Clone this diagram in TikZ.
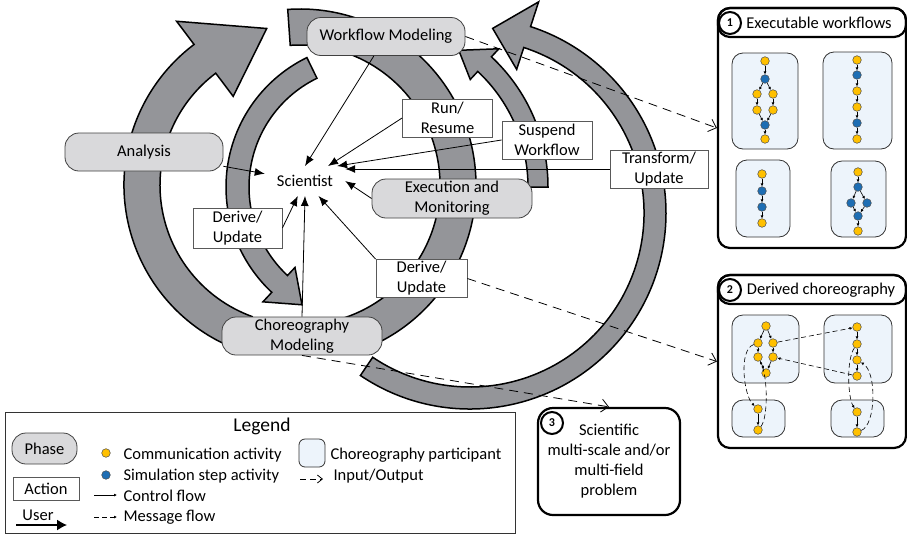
\documentclass[tikz,border=0pt]{standalone}
\usepackage{fontspec}
\setmainfont{Carlito}
\usepackage{tikz}
\usetikzlibrary{arrows.meta,calc}

\definecolor{bandgray}{RGB}{148,149,153}
\definecolor{phasegray}{RGB}{217,217,219}
\definecolor{partblue}{RGB}{237,244,251}
\definecolor{commyellow}{RGB}{255,192,0}
\definecolor{simblue}{RGB}{30,110,180}

\begin{document}
\begin{tikzpicture}[x=1pt, y=1pt, font=\fontsize{16.5}{20}\selectfont,
    band/.style={draw=black, line width=1.5pt, fill=bandgray},
    phase/.style={draw=black!75, line width=0.8pt, fill=phasegray, rounded corners=14pt, minimum width=158pt, minimum height=38pt, align=center, inner sep=0pt},
    action/.style={draw=black!65, line width=0.8pt, fill=white, minimum width=90pt, minimum height=38pt, align=center, inner sep=0pt},
    user/.style={-{Latex[length=10pt,width=8pt]}, line width=0.8pt},
    io/.style={-{Straight Barb[length=7pt,width=13pt]}, line width=0.8pt, dash pattern=on 9pt off 6pt},
    group/.style={draw=black, line width=2.2pt, rounded corners=12pt, inner sep=0pt},
    part/.style={draw=black!80, fill=partblue, line width=0.8pt, rounded corners=11pt, inner sep=0pt},
    cdot/.style={circle, draw=black!70, fill=commyellow, minimum size=8.6pt, inner sep=0pt, line width=0.5pt},
    sdot/.style={cdot, fill=simblue},
    flow/.style={-{Latex[length=3pt,width=3pt]}, line width=0.6pt},
    msg/.style={flow, dash pattern=on 5pt off 3pt},
    num/.style={circle, draw=black, line width=2pt, fill=white, inner sep=0pt, minimum size=22pt, font=\fontsize{12}{12}\selectfont\bfseries}]
    \useasboundingbox (0,0) rectangle (907,-536);
    \coordinate (O1) at (300,-185); \coordinate (O2) at (370,-187); \coordinate (O3) at (470,-213);

    \draw[band] ($(O3)+(236:196)$) arc[start angle=236, end angle=432, radius=196] -- ($(O3)+(432:222)$) -- ($(O3)+(443:186)$) -- ($(O3)+(432:151)$) -- ($(O3)+(432:174)$) arc[start angle=432, end angle=236, radius=174] -- cycle;
    \draw[band] ($(O2)+(0:178)$) arc[start angle=0, end angle=47, radius=178] -- ($(O2)+(47:189)$) -- ($(O2)+(57:163)$) -- ($(O2)+(47:147)$) -- ($(O2)+(47:158)$) arc[start angle=47, end angle=0, radius=158] -- cycle;
    \draw[band] ($(O1)+(94:176)$) arc[start angle=94, end angle=-73, radius=176] -- ($(O1)+(-73:140)$) arc[start angle=-73, end angle=94, radius=140] -- cycle;
    \draw[band] ($(O1)+(250:176)$) arc[start angle=250, end angle=127, radius=176] -- ($(O1)+(127:205)$) -- ($(O1)+(102:160)$) -- ($(O1)+(127:111)$) -- ($(O1)+(127:140)$) arc[start angle=127, end angle=250, radius=140] -- cycle;
    \draw[band] ($(O2)+(116:144)$) arc[start angle=116, end angle=227, radius=144] -- ($(O2)+(227:157)$) -- ($(O2)+(240:136)$) -- ($(O2)+(227:110)$) -- ($(O2)+(227:121)$) arc[start angle=227, end angle=116, radius=121] -- cycle;

    \node[phase] (wfm) at (386,-36.5) {Workflow Modeling};
    \node[phase] (ana) at (144,-152) {Analysis};
    \node[phase, minimum width=160pt, minimum height=39pt] (exe) at (452,-198.5) {Execution and\\Monitoring};
    \node[phase, minimum width=160pt] (chm) at (302,-336) {Choreography\\Modeling};

    \node[action] (run) at (447.5,-118) {Run/\\Resume};
    \node[action] (susp) at (547,-140) {Suspend\\Workflow};
    \node[action, minimum width=98pt] (trans) at (659,-169) {Transform/\\Update};
    \node[action, minimum width=89pt, minimum height=40pt] (dl) at (237.5,-228) {Derive/\\Update};
    \node[action, minimum width=91pt] (dr) at (421.5,-278.5) {Derive/\\Update};
    \node[inner xsep=12pt, inner ysep=9pt] (sci) at (305,-181) {Scientist};

    \draw[user] (wfm) -- (sci.north); \draw[user] (run.west) -- (sci);
    \draw[user] (susp.west) -- (sci.25); \draw[user] (trans.west) -- (trans.west -| sci.east);
    \draw[user] (exe.west) -- (sci.east); \draw[user] (ana) -- (sci);
    \draw[user] (dl.east) -- (sci); \draw[user] (chm.north) -- (sci.south);
    \draw[user] (dr.north west) -- (sci);

    \node[group, minimum width=188pt, minimum height=240pt] (ex) at (812,-128) {};
    \node[group, minimum width=188pt, minimum height=29pt] (exh) at (812,-22.5) {};
    \node (ext) at (819,-23) {Executable workflows}; \node[num] (n1) at (730,-23) {1};
    \node[group, minimum width=188pt, minimum height=173pt] (ch) at (812,-361.5) {};
    \node[group, minimum width=188pt, minimum height=29pt] (chh) at (812,-289.5) {};
    \node (cht) at (821,-290) {Derived choreography}; \node[num] (n2) at (730,-290) {2};
    \node[group, rounded corners=15pt, minimum width=142pt, minimum height=107pt, align=center] (prob) at (609,-461.5) {Scientific\\multi-scale and/or\\multi-field\\problem};
    \node[num] (n3) at (552,-423) {3};

    \node[part, minimum width=66pt, minimum height=96pt] (p1) at (765,-101) {};
    \node[part, minimum width=69pt, minimum height=97pt] (p2) at (857.5,-100.5) {};
    \node[part, minimum width=54pt, minimum height=77pt] (p3) at (763,-198.5) {};
    \node[part, minimum width=55pt, minimum height=76pt] (p4) at (858.5,-199) {};
    \node[part, minimum width=67pt, minimum height=68pt] (q1) at (765.5,-349) {};
    \node[part, minimum width=68pt, minimum height=68pt] (q2) at (858,-349) {};
    \node[part, minimum width=53pt, minimum height=37pt] (q3) at (758.5,-418.5) {};
    \node[part, minimum width=53pt, minimum height=37pt] (q4) at (857.5,-418.5) {};

    \foreach \n/\x/\y in {a1/765/61, a3/757/94, a4/773/94, a5/757/110, a6/773/110, a8/765/139, b1/857/60, b3/857/91, b4/857/107, b6/857/139, c1/762/174, c4/762/223, d1/858/172, d6/858/231, e1/766/326, e2/758/343, e3/773/343, e4/758/357, e5/773/357, e6/766/373, f1/857/327, f2/857/344, f3/857/360, f4/857/376, g1/758/409, g2/758/430, h1/857/412, h2/857/432}
        \node[cdot] (\n) at (\x,-\y) {};
    \foreach \n/\x/\y in {a2/765/79, a7/765/125, b2/857/75, b5/857/123, c2/762/191, c3/762/207, d2/858/187, d3/851/203, d4/867/203, d5/858/216}
        \node[sdot] (\n) at (\x,-\y) {};
    \foreach \s/\t in {a1/a2, a2/a3, a2/a4, a3/a5, a4/a6, a5/a7, a6/a7, a7/a8, b1/b2, b2/b3, b3/b4, b4/b5, b5/b6, c1/c2, c2/c3, c3/c4, d1/d2, d2/d3, d2/d4, d3/d5, d4/d5, d5/d6, e1/e2, e1/e3, e2/e4, e3/e5, e4/e6, e5/e6, f1/f2, f2/f3, f3/f4, g1/g2, h1/h2}
        \draw[flow] (\s) -- (\t);
    \draw[msg] (e3) -- (f1); \draw[msg] (f4) -- (e5);
    \draw[msg] (e2) .. controls (738,-350) and (744,-396) .. (g1);
    \draw[msg] (g2) .. controls (768,-418) and (768,-378) .. (e4);
    \draw[msg] (f2) .. controls (846,-360) and (848,-398) .. (h1);
    \draw[msg] (h2) .. controls (876,-425) and (877,-372) .. (f3);

    \draw[io] (wfm.east) -- (ex.west); \draw[io] (dr.east) -- (ch.west); \draw[io] (chm.south) -- (prob.north);

    \node[draw=black!80, line width=0.8pt, minimum width=510pt, minimum height=121pt, inner sep=0pt] (leg) at (260,-472.5) {};
    \node[font=\fontsize{19.5}{20}\selectfont] (legt) at (262,-426) {Legend};
    \node[phase, minimum width=65pt, minimum height=31pt] (lph) at (44.5,-448.5) {Phase};
    \node[action, minimum width=66pt, minimum height=23pt] (lac) at (46,-488.5) {Action};
    \node (lus) at (38,-515) {User};
    \coordinate (lu1) at (16,-525); \coordinate (lu2) at (67,-525);
    \draw[-{Latex[length=10pt,width=11pt]}, line width=1.3pt] (lu1) -- (lu2);
    \node[cdot] (lcd) at (106,-453) {}; \node[sdot] (lsd) at (106,-475) {};
    \node[anchor=west] (lct) at (120,-455) {Communication activity};
    \node[anchor=west] (lst) at (120,-476) {Simulation step activity};
    \node[anchor=west] (lcf) at (120,-496) {Control flow};
    \node[anchor=west] (lmf) at (120,-517) {Message flow};
    \coordinate (lc1) at (94,-495); \coordinate (lc2) at (117,-495); \draw[flow] (lc1) -- (lc2);
    \coordinate (lm1) at (94,-517); \coordinate (lm2) at (117,-517); \draw[msg] (lm1) -- (lm2);
    \node[part, minimum width=26pt, minimum height=28pt, rounded corners=6pt] (lpt) at (312,-453) {};
    \node[anchor=west] (lptt) at (327,-455) {Choreography participant};
    \coordinate (li1) at (300,-479); \coordinate (li2) at (323,-479);
    \draw[io, -{Straight Barb[length=5pt,width=8pt]}, dash pattern=on 6pt off 4pt] (li1) -- (li2);
    \node[anchor=west] (liot) at (330,-476) {Input/Output};
\end{tikzpicture}
\end{document}
